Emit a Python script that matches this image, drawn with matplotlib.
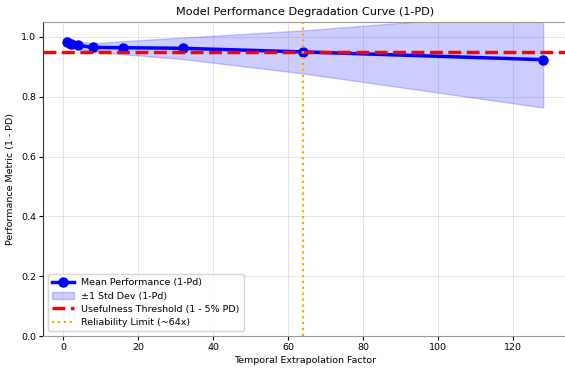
import numpy as np
import matplotlib
matplotlib.use("Agg")
import matplotlib.pyplot as plt

# Extrapolation factors and measured performance (1 - PD)
factors = [1, 2, 4, 8, 16, 32, 64, 128]
mean_perf = [0.982, 0.978, 0.972, 0.965, 0.964, 0.962, 0.950, 0.924]
std_perf = [0.018, 0.015, 0.012, 0.014, 0.022, 0.036, 0.072, 0.160]
threshold = 0.95
reliability_limit = 64

fig = plt.figure(figsize=(5.65, 3.72), dpi=100)
ax = fig.add_axes([43 / 565, 36 / 372, 524 / 565, 314 / 372])

m = np.array(mean_perf)
s = np.array(std_perf)

ax.plot(factors, mean_perf, color="blue", marker="o", markersize=6.5,
        linewidth=2.5, label="Mean Performance (1-Pd)", zorder=3)
ax.fill_between(factors, m - s, m + s, color="blue", alpha=0.2,
                label="±1 Std Dev (1-Pd)", zorder=2)
ax.axhline(threshold, color="red", linestyle="--", linewidth=2.5,
           label="Usefulness Threshold (1 - 5% PD)", zorder=4)
ax.axvline(reliability_limit, color="orange", linestyle=":", linewidth=1.6,
           label="Reliability Limit (~64x)", zorder=5)

ax.set_xlim(-5.35, 134.35)
ax.set_ylim(0, 1.05)
ax.set_title("Model Performance Degradation Curve (1-PD)", fontsize=8.1, pad=5)
ax.set_xlabel("Temporal Extrapolation Factor", fontsize=6.8, labelpad=3)
ax.set_ylabel("Performance Metric (1 - PD)", fontsize=6.8, labelpad=4)
ax.tick_params(labelsize=6.8, length=3, width=0.8, pad=2)
ax.grid(True, color="#cccccc", alpha=0.5, linewidth=0.7)

for side in ("top", "bottom", "right"):
    ax.spines[side].set_color("#999999")
ax.spines["left"].set_color("#333333")

ax.legend(loc="lower left", fontsize=6.8, framealpha=0.8, handlelength=2.3,
          borderpad=0.45, labelspacing=0.45)

fig.savefig("out.png", dpi=100)
